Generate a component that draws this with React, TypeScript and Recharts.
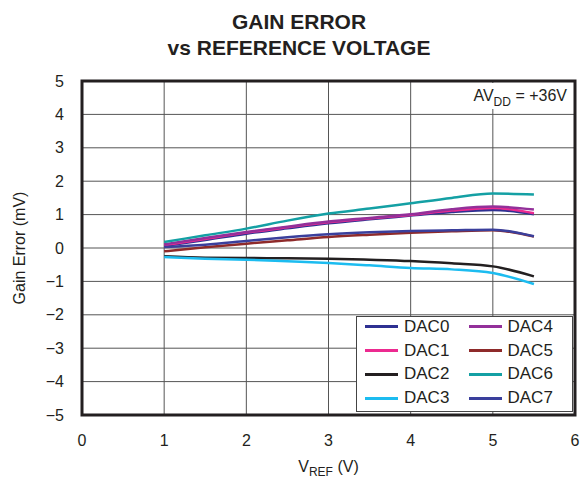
import React from 'react';
import {
  LineChart,
  Line,
  XAxis,
  YAxis,
  CartesianGrid,
  Legend,
  ReferenceArea,
} from 'recharts';

// V_REF sample points (V)
const vref = [1, 1.5, 2, 2.5, 3, 3.5, 4, 4.5, 5, 5.5];

// gain error per channel (mV)
const dac0 = [0.06, 0.24, 0.43, 0.59, 0.74, 0.86, 0.97, 1.08, 1.14, 1.01];
const dac1 = [0.08, 0.27, 0.46, 0.62, 0.77, 0.88, 0.99, 1.12, 1.2, 1.04];
const dac2 = [-0.25, -0.29, -0.3, -0.31, -0.32, -0.35, -0.39, -0.46, -0.55, -0.85];
const dac3 = [-0.27, -0.32, -0.35, -0.4, -0.45, -0.52, -0.6, -0.64, -0.75, -1.08];
const dac4 = [0.11, 0.3, 0.48, 0.64, 0.79, 0.9, 1.01, 1.16, 1.24, 1.15];
const dac5 = [-0.1, 0.02, 0.13, 0.23, 0.33, 0.4, 0.46, 0.5, 0.53, 0.34];
const dac6 = [0.18, 0.38, 0.58, 0.82, 1.03, 1.18, 1.34, 1.5, 1.63, 1.6];
const dac7 = [0.03, 0.1, 0.21, 0.32, 0.41, 0.47, 0.51, 0.53, 0.55, 0.35];

const xTicks = [0, 1, 2, 3, 4, 5, 6];
const yTicks = [-5, -4, -3, -2, -1, 0, 1, 2, 3, 4, 5];

const series = [
  { key: 'DAC0', values: dac0, color: '#2e3192' },
  { key: 'DAC1', values: dac1, color: '#ec2a90' },
  { key: 'DAC2', values: dac2, color: '#231f20' },
  { key: 'DAC3', values: dac3, color: '#1cbcf0' },
  { key: 'DAC4', values: dac4, color: '#93309a' },
  { key: 'DAC5', values: dac5, color: '#8e2a2a' },
  { key: 'DAC6', values: dac6, color: '#14a0a4' },
  { key: 'DAC7', values: dac7, color: '#3a3f9c' },
];

const data = vref.map((v, i) => {
  const row: any = { v };
  series.forEach((s) => (row[s.key] = s.values[i]));
  return row;
});

const fmt = (v: number) => (v < 0 ? `\u2212${Math.abs(v)}` : `${v}`);

const LegendBox = ({ payload }: any) => {
  const items = payload ?? [];
  const cols = [items.slice(0, 4), items.slice(4, 8)];
  return (
    <div
      style={{
        width: 217,
        height: 96,
        boxSizing: 'border-box',
        border: '1px solid #444',
        background: '#fff',
        display: 'flex',
        paddingLeft: 8,
        paddingTop: 0,
      }}
    >
      {cols.map((col: any[], ci: number) => (
        <div key={ci} style={{ width: 110, marginTop: -2 }}>
          {col.map((it: any) => (
            <div
              key={it.value}
              style={{ height: 23.8, display: 'flex', alignItems: 'center', fontSize: 17, color: '#231f20' }}
            >
              <span style={{ display: 'inline-block', width: 33, height: 3, background: it.color, marginRight: 6 }} />
              {it.value}
            </div>
          ))}
        </div>
      ))}
    </div>
  );
};

const XLabel = ({ viewBox }: any) => {
  const cx = viewBox.x + viewBox.width / 2;
  const y = viewBox.y + 57;
  return (
    <text x={cx} y={y} textAnchor="middle" fontSize={16} fill="#231f20">
      V<tspan dy={4} fontSize={12}>REF</tspan>
      <tspan dy={-4}> (V)</tspan>
    </text>
  );
};

export default function App() {
  return (
    <div
      style={{
        position: 'fixed',
        left: 0,
        top: 0,
        width: 585,
        height: 480,
        background: '#fff',
        fontFamily: '"Liberation Sans", Arial, sans-serif',
        color: '#231f20',
      }}
    >
      <div
        style={{
          position: 'absolute',
          left: 0,
          top: 9,
          width: 598,
          textAlign: 'center',
          fontWeight: 'bold',
          fontSize: 21,
          lineHeight: '26px',
        }}
      >
        GAIN ERROR
        <br />
        vs REFERENCE VOLTAGE
      </div>

      <div style={{ position: 'absolute', left: 0, top: 0 }}>
        <LineChart width={585} height={480} data={data} margin={{ top: 81, right: 10, left: 0, bottom: 0 }}>
          <CartesianGrid stroke="#555" strokeWidth={1} />
          <XAxis
            dataKey="v"
            type="number"
            domain={[0, 6]}
            ticks={xTicks}
            height={65}
            tickLine={false}
            axisLine={false}
            tickMargin={14}
            tick={{ fill: '#231f20', fontSize: 16 }}
            label={<XLabel />}
          />
          <YAxis
            type="number"
            domain={[-5, 5]}
            ticks={yTicks}
            width={82}
            tickLine={false}
            axisLine={false}
            tickMargin={12}
            tickFormatter={fmt}
            tick={{ fill: '#231f20', fontSize: 16 }}
            label={{ value: 'Gain Error (mV)', angle: -90, position: 'center', dx: -22, fontSize: 16, fill: '#231f20' }}
          />
          {series.map((s) => (
            <Line
              key={s.key}
              dataKey={s.key}
              name={s.key}
              stroke={s.color}
              strokeWidth={2.5}
              type="monotone"
              dot={false}
              isAnimationActive={false}
            />
          ))}
          <ReferenceArea
            x1={0}
            x2={6}
            y1={-5}
            y2={5}
            fill="none"
            stroke="#231f20"
            strokeWidth={3}
            ifOverflow="visible"
          />
          <Legend
            content={<LegendBox />}
            layout="horizontal"
            align="center"
            verticalAlign="middle"
            wrapperStyle={{ left: 356, top: 316, width: 217, height: 96 }}
          />
        </LineChart>
      </div>

      <div
        style={{
          position: 'absolute',
          left: 452,
          top: 83,
          width: 121,
          height: 26,
          background: '#fff',
          textAlign: 'right',
          fontSize: 16,
          lineHeight: '26px',
          paddingRight: 6,
          boxSizing: 'border-box',
        }}
      >
        AV<sub style={{ fontSize: 12, verticalAlign: -5 }}>DD</sub> = +36V
      </div>
    </div>
  );
}
